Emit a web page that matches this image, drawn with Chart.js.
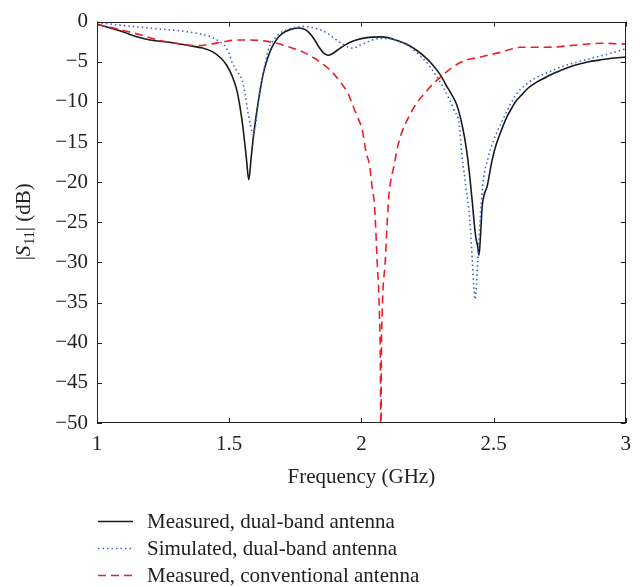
<!DOCTYPE html>
<html><head><meta charset="utf-8">
<script src="https://cdn.jsdelivr.net/npm/chart.js@4/dist/chart.umd.min.js"></script>
<style>html,body{margin:0;padding:0;background:#fff}#wrap{width:640px;height:587px}</style>
</head><body><div id="wrap"><canvas id="c" width="640" height="587"></canvas></div>
<script>
const seriesLabels = ['Measured, dual-band antenna', 'Simulated, dual-band antenna', 'Measured, conventional antenna'];

const measDualFreq = [1.00,1.05,1.10,1.15,1.20,1.28,1.35,1.40,1.44,1.47,1.49,1.51,1.53,1.545,1.555,1.565,1.574,1.583,1.59,1.60,1.61,1.62,1.63,1.645,1.66,1.68,1.70,1.73,1.76,1.78,1.80,1.82,1.84,1.86,1.875,1.89,1.92,1.95,1.98,2.02,2.07,2.10,2.13,2.17,2.21,2.24,2.27,2.30,2.32,2.34,2.36,2.375,2.39,2.40,2.41,2.42,2.428,2.434,2.44,2.445,2.45,2.457,2.465,2.476,2.49,2.50,2.51,2.53,2.55,2.57,2.585,2.61,2.63,2.66,2.70,2.73,2.76,2.80,2.86,2.90,2.94,3.00];
const measDualDb = [-0.3,-0.8,-1.3,-1.9,-2.3,-2.6,-3.0,-3.3,-3.8,-4.6,-5.4,-6.7,-8.7,-11.5,-14.0,-17.0,-19.7,-17.0,-14.8,-12.2,-10.0,-8.0,-6.3,-4.6,-3.3,-2.2,-1.5,-1.0,-0.8,-0.9,-1.3,-2.1,-3.2,-4.0,-4.2,-4.0,-3.3,-2.7,-2.3,-2.0,-1.9,-2.0,-2.3,-2.8,-3.6,-4.4,-5.4,-6.7,-7.9,-9.0,-10.3,-12.0,-14.4,-16.5,-19.3,-22.6,-25.5,-27.1,-28.0,-29.1,-27.0,-23.0,-21.5,-20.5,-18.0,-16.5,-15.3,-13.5,-11.9,-10.7,-9.9,-9.0,-8.3,-7.6,-6.9,-6.4,-6.0,-5.5,-5.0,-4.8,-4.6,-4.4];

const simDualFreq = [1.00,1.05,1.10,1.17,1.23,1.30,1.35,1.40,1.43,1.46,1.48,1.50,1.51,1.53,1.55,1.56,1.57,1.58,1.59,1.60,1.605,1.61,1.62,1.63,1.64,1.65,1.67,1.69,1.72,1.75,1.78,1.82,1.85,1.87,1.89,1.92,1.95,1.97,1.99,2.02,2.05,2.09,2.12,2.15,2.19,2.22,2.25,2.28,2.31,2.33,2.35,2.37,2.38,2.395,2.41,2.42,2.43,2.44,2.45,2.46,2.48,2.50,2.51,2.55,2.585,2.62,2.66,2.70,2.76,2.82,2.89,2.95,3.00];
const simDualDb = [-0.1,-0.3,-0.5,-0.7,-0.9,-1.1,-1.3,-1.6,-1.9,-2.4,-2.9,-4.0,-5.0,-6.2,-7.4,-9.0,-11.1,-12.8,-14.0,-12.8,-11.5,-9.8,-7.9,-6.3,-4.6,-3.3,-2.2,-1.5,-1.0,-0.7,-0.6,-0.8,-1.1,-1.4,-1.9,-2.6,-3.2,-3.3,-3.0,-2.6,-2.2,-2.1,-2.2,-2.5,-3.3,-4.2,-5.2,-6.6,-8.2,-9.5,-11.0,-12.8,-16.5,-20.5,-24.7,-30.0,-34.6,-30.0,-24.2,-20.1,-16.9,-14.8,-14.0,-11.2,-9.1,-7.9,-7.0,-6.4,-5.6,-5.0,-4.4,-3.9,-3.4];

const measConvFreq = [1.00,1.05,1.10,1.17,1.23,1.30,1.38,1.43,1.48,1.53,1.58,1.63,1.68,1.73,1.78,1.82,1.85,1.88,1.92,1.95,1.966,1.98,2.004,2.019,2.03,2.042,2.049,2.06,2.068,2.072,2.074,2.0755,2.079,2.09,2.102,2.106,2.125,2.14,2.19,2.245,2.31,2.38,2.45,2.53,2.60,2.70,2.82,2.91,3.00];
const measConvDb = [-0.4,-0.7,-1.1,-1.7,-2.3,-2.7,-3.0,-2.8,-2.5,-2.3,-2.3,-2.4,-2.7,-3.2,-3.8,-4.5,-5.2,-6.0,-7.5,-9.0,-10.3,-11.5,-13.6,-16.5,-17.7,-21.0,-22.6,-30.0,-36.0,-43.0,-55.0,-43.0,-36.0,-30.0,-22.6,-21.0,-17.7,-15.2,-11.2,-8.7,-6.6,-5.0,-4.4,-3.8,-3.2,-3.2,-2.9,-2.7,-2.8];

const xTickValues = [1, 1.5, 2, 2.5, 3];
const yTickValues = [0, -5, -10, -15, -20, -25, -30, -35, -40, -45, -50];
const xTitle = 'Frequency (GHz)';

const FONT = "'Liberation Serif', 'Times New Roman', serif";
const FSIZE = 21;
const toPts = (fs, ds) => fs.map((f, i) => ({x: f, y: ds[i]}));

const frame = {
  id: 'frame',
  afterDraw(chart) {
    const ctx = chart.ctx, a = chart.chartArea;
    const xs = chart.scales.x, ys = chart.scales.y;
    ctx.save();
    ctx.strokeStyle = '#222'; ctx.lineWidth = 1;
    ctx.strokeRect(Math.round(a.left) + 0.5, Math.round(a.top) + 0.5, Math.round(a.right - a.left) - 1, Math.round(a.bottom - a.top) - 1);
    ctx.beginPath();
    const tl = 5;
    xTickValues.forEach(v => {
      const px = Math.round(xs.getPixelForValue(v)) + 0.5;
      ctx.moveTo(px, a.bottom); ctx.lineTo(px, a.bottom - tl);
      ctx.moveTo(px, a.top); ctx.lineTo(px, a.top + tl);
    });
    yTickValues.forEach(v => {
      const py = Math.round(ys.getPixelForValue(v)) + 0.5;
      ctx.moveTo(a.left, py); ctx.lineTo(a.left + tl, py);
      ctx.moveTo(a.right, py); ctx.lineTo(a.right - tl, py);
    });
    ctx.stroke();

    // x title
    ctx.fillStyle = '#222';
    ctx.font = FSIZE + 'px ' + FONT;
    ctx.textAlign = 'center'; ctx.textBaseline = 'alphabetic';
    ctx.fillText(xTitle, (a.left + a.right) / 2, 483);

    // y title |S11| (dB)
    ctx.save();
    ctx.translate(30, (a.top + a.bottom) / 2);
    ctx.rotate(-Math.PI / 2);
    ctx.textAlign = 'left';
    const parts = [
      {t: '|', f: FSIZE + 'px ' + FONT, dy: 0},
      {t: 'S', f: 'italic ' + FSIZE + 'px ' + FONT, dy: 0},
      {t: '11', f: '14px ' + FONT, dy: 4},
      {t: '| (dB)', f: FSIZE + 'px ' + FONT, dy: 0}
    ];
    let total = 0;
    parts.forEach(p => { ctx.font = p.f; p.w = ctx.measureText(p.t).width; total += p.w; });
    let x0 = -total / 2;
    parts.forEach(p => { ctx.font = p.f; ctx.fillText(p.t, x0, p.dy); x0 += p.w + (p.t === 'S' ? 1 : 0); });
    ctx.restore();

    // legend
    const rows = [521, 548, 575];
    chart.data.datasets.forEach((ds, i) => {
      const y = rows[i];
      ctx.save();
      ctx.strokeStyle = ds.borderColor; ctx.lineWidth = ds.borderWidth;
      ctx.setLineDash(ds.borderDash || []);
      ctx.beginPath(); ctx.moveTo(98, y + 0.5); ctx.lineTo(133, y + 0.5); ctx.stroke();
      ctx.restore();
      ctx.fillStyle = '#222';
      ctx.font = FSIZE + 'px ' + FONT;
      ctx.textAlign = 'left'; ctx.textBaseline = 'alphabetic';
      ctx.fillText(ds.label, 147, y + 7);
    });
    ctx.restore();
  }
};

new Chart(document.getElementById('c'), {
  type: 'line',
  data: {
    datasets: [
      {label: seriesLabels[0], data: toPts(measDualFreq, measDualDb), borderColor: '#1a1a1a', borderWidth: 1.6, pointRadius: 0, cubicInterpolationMode: 'monotone', fill: false, order: 2},
      {label: seriesLabels[1], data: toPts(simDualFreq, simDualDb), borderColor: '#3f63c8', borderWidth: 1.6, borderDash: [1.5, 3], pointRadius: 0, cubicInterpolationMode: 'monotone', fill: false, order: 1},
      {label: seriesLabels[2], data: toPts(measConvFreq, measConvDb), borderColor: '#e8202a', borderWidth: 1.6, borderDash: [8, 5], pointRadius: 0, cubicInterpolationMode: 'monotone', fill: false, order: 0}
    ]
  },
  options: {
    responsive: false, animation: false, devicePixelRatio: 1,
    layout: {padding: {left: 0, right: 13, top: 16, bottom: 0}},
    plugins: {legend: {display: false}, tooltip: {enabled: false}},
    scales: {
      x: {
        type: 'linear', min: 1, max: 3,
        afterFit: s => { s.height = 164; },
        afterBuildTicks: s => { s.ticks = xTickValues.map(v => ({value: v})); },
        ticks: {color: '#222', font: {family: FONT, size: FSIZE}, padding: 9, maxRotation: 0, autoSkip: false, callback: v => String(v)},
        grid: {display: false, drawTicks: false}, border: {display: false}
      },
      y: {
        min: -50, max: 0,
        afterFit: s => { s.width = 97; },
        afterBuildTicks: s => { s.ticks = yTickValues.map(v => ({value: v})); },
        ticks: {color: '#222', font: {family: FONT, size: FSIZE}, padding: 9, autoSkip: false, callback: v => String(v).replace('-', '\u2212')},
        grid: {display: false, drawTicks: false}, border: {display: false}
      }
    }
  },
  plugins: [frame]
});
</script></body></html>
